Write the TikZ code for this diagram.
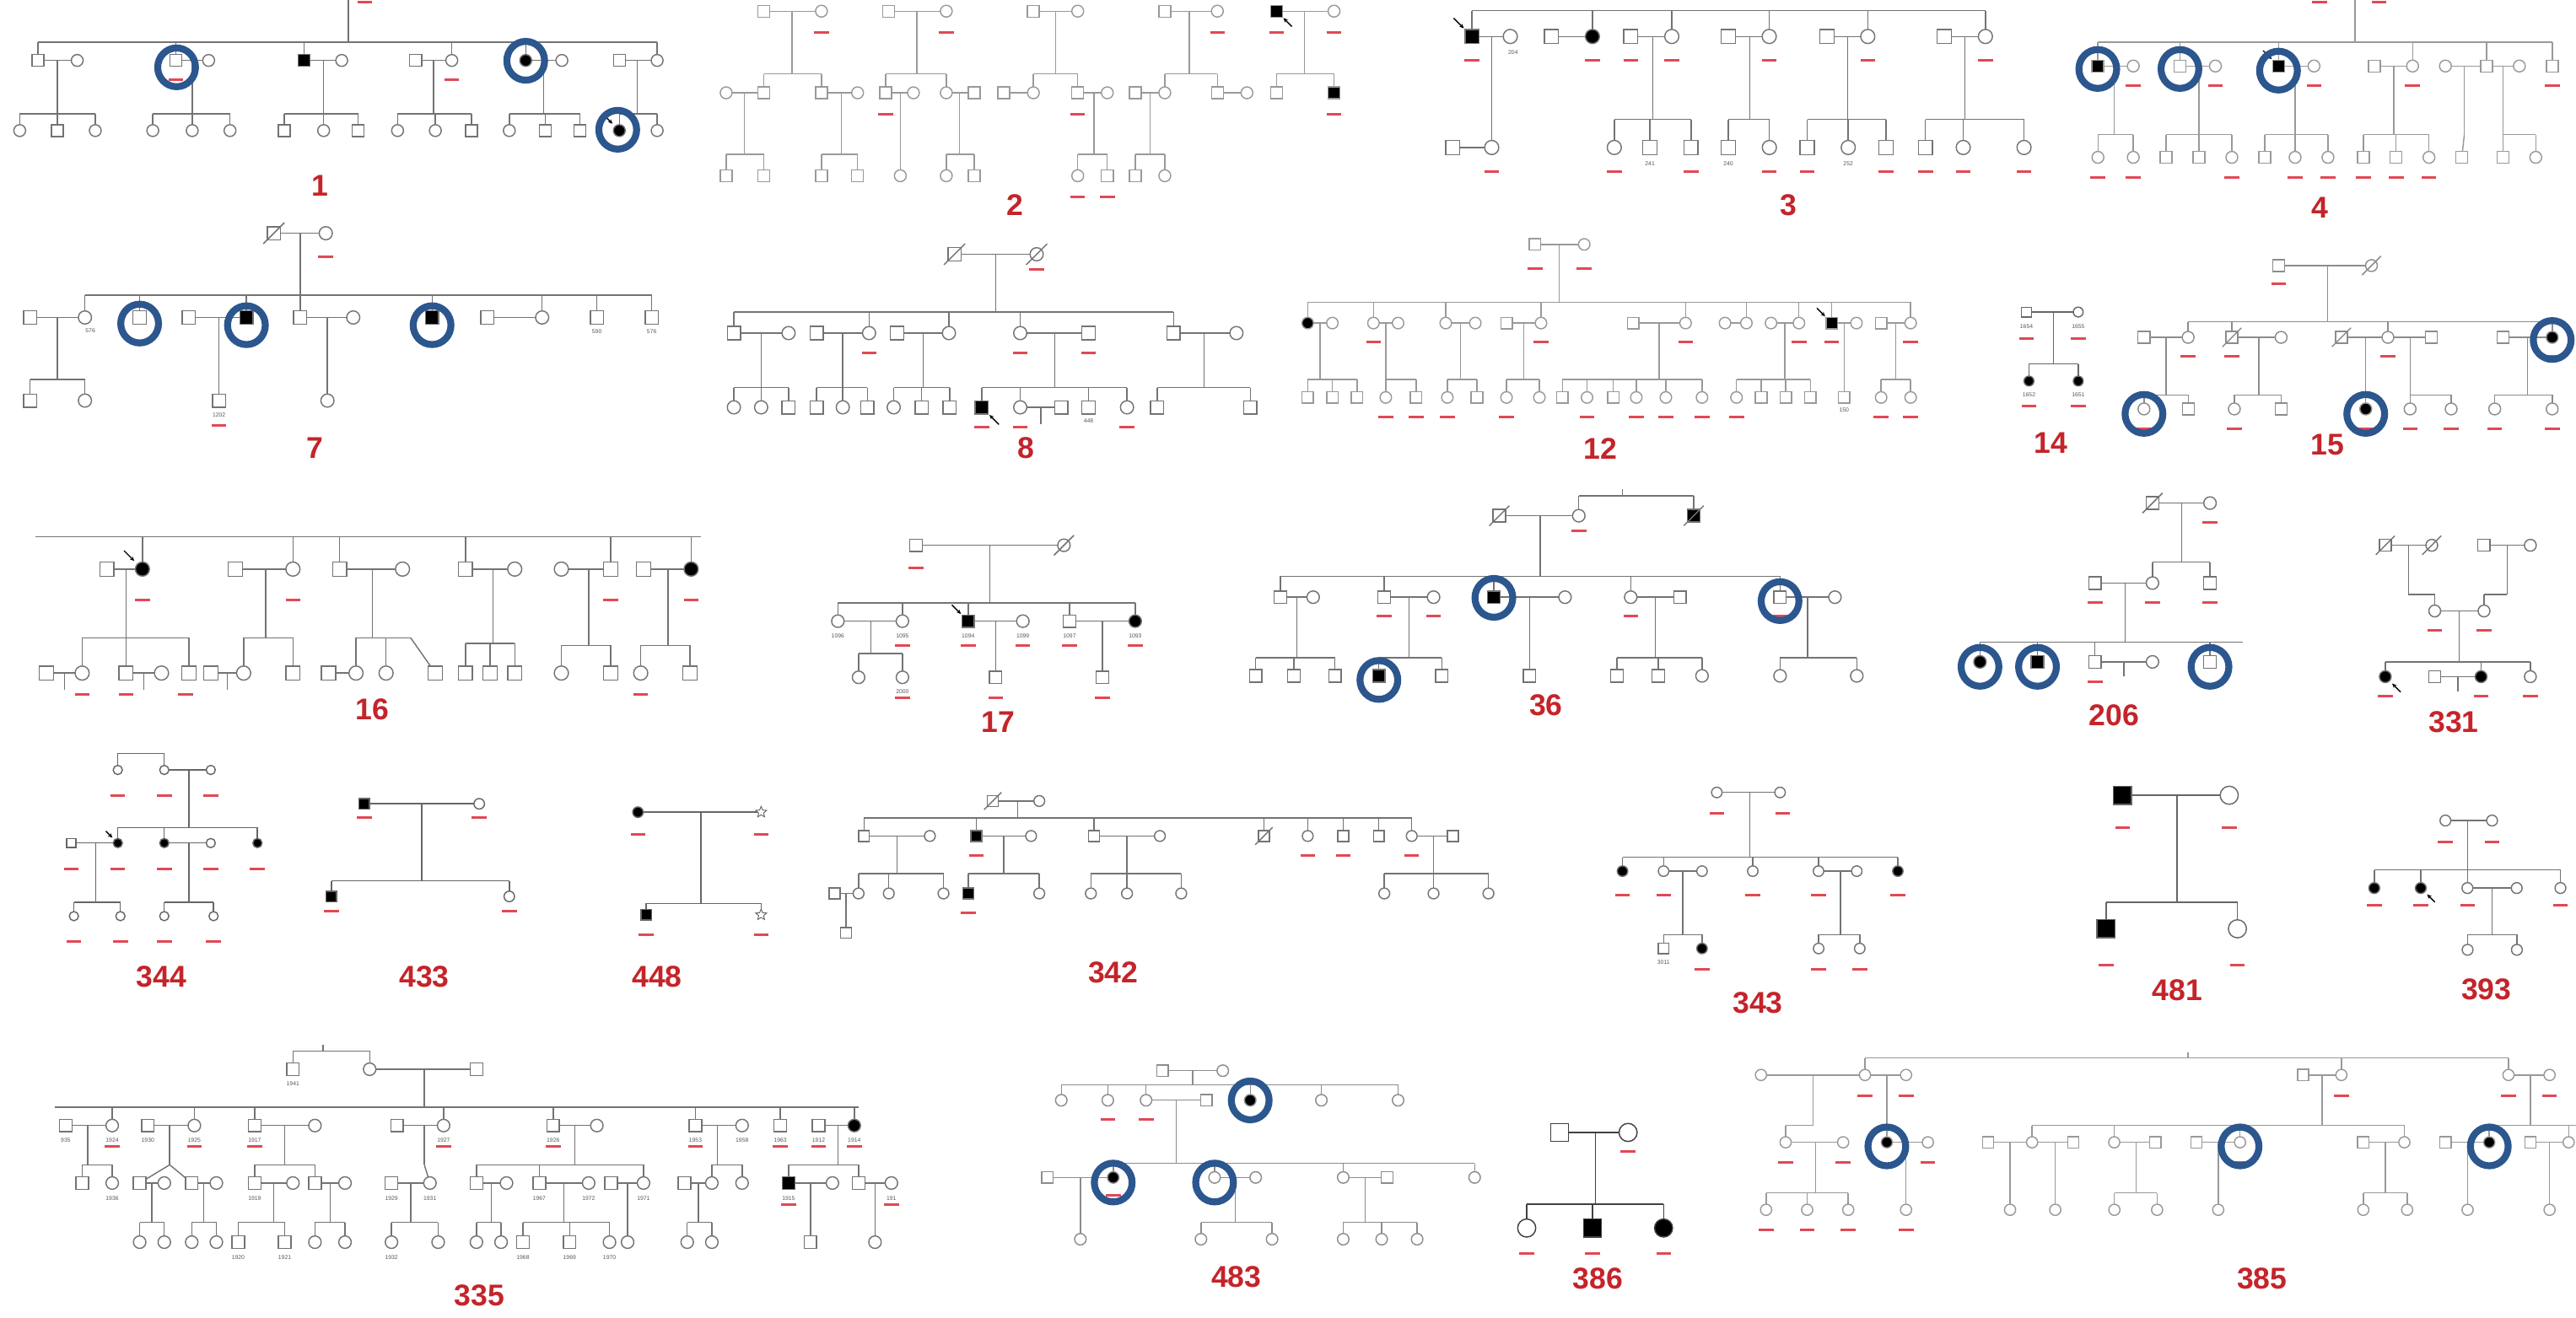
\documentclass[tikz,border=0pt]{standalone}
\usepackage{fontspec}
\setmainfont{Liberation Sans}
\usetikzlibrary{arrows.meta,shapes.geometric}
\definecolor{pedred}{RGB}{196,36,42}
\definecolor{barred}{RGB}{226,72,84}
\definecolor{hlblue}{RGB}{44,86,142}
\def\s{4}\def\lc{black!55}
\tikzset{
 ln/.style={draw=\lc, line width=1.05pt},
 sym/.style={draw=\lc, fill=white, line width=1.05pt},
 symf/.style={draw=\lc, fill=black, line width=1.05pt},
 rbar/.style={draw=barred, line width=2.2pt},
 hl/.style={draw=hlblue, line width=6pt},
 parrow/.style={draw=black, line width=1pt, -{Stealth[length=4pt,width=3.5pt]}},
 lab/.style={text=pedred, font=\fontsize{26}{28}\selectfont\bfseries, inner sep=0pt},
 num/.style={text=black!65, font=\fontsize{5}{6}\selectfont, inner sep=0pt},
 starsym/.style={star, star points=5, star point ratio=2.2, draw=black!60, line width=0.7pt, fill=white, minimum size=10pt, inner sep=0pt}
}
\newcommand\Hl[3]{\draw[ln] (#2,#1) -- (#3,#1);}
\newcommand\Vl[3]{\draw[ln] (#1,#2) -- (#1,#3);}
\newcommand\Ln[4]{\draw[ln] (#1,#2) -- (#3,#4);}
\newcommand\Dr[3]{\foreach \xx in {#3}{\draw[ln] (\xx,#1) -- (\xx,#2);}}
\newcommand\Ms[2]{\foreach \xx in {#2}{\draw[sym] (\xx-\s,#1-\s) rectangle (\xx+\s,#1+\s);}}
\newcommand\MF[2]{\foreach \xx in {#2}{\draw[symf] (\xx-\s,#1-\s) rectangle (\xx+\s,#1+\s);}}
\newcommand\Fs[2]{\foreach \xx in {#2}{\draw[sym] (\xx,#1) circle[radius=\s];}}
\newcommand\FF[2]{\foreach \xx in {#2}{\draw[symf] (\xx,#1) circle[radius=\s];}}
\newcommand\Sls[2]{\foreach \xx in {#2}{\draw[ln] (\xx-1.6*\s,#1+1.6*\s) -- (\xx+1.6*\s,#1-1.6*\s);}}
\newcommand\Rbs[2]{\foreach \xx in {#2}{\draw[rbar] (\xx-4.5,#1) -- (\xx+4.5,#1);}}
\newcommand\Hil[2]{\draw[hl] (#1,#2) ellipse[x radius=11.5, y radius=11.8];}
\newcommand\Pro[2]{\draw[parrow] (#1-2.6*\s,#2-2.6*\s) -- (#1-1.15*\s,#2-1.15*\s);}
\newcommand\ProR[2]{\draw[parrow] (#1+2.6*\s,#2+2.6*\s) -- (#1+1.15*\s,#2+1.15*\s);}
\newcounter{nn}
\newcommand\Nm[3]{\stepcounter{nn}\node[num] (n\arabic{nn}) at (#1,#2) {#3};}
\newcommand\Lab[3]{\node[lab] (p#3) at (#1,#2) {#3};}
\begin{document}
\begin{tikzpicture}[x=0.05cm,y=-0.05cm]
\fill[white] (0,0) rectangle (1568,802);
\path[use as bounding box] (0,0) rectangle (1568,802);

% ===== 1 =====
\def\s{3.6}\def\lc{black!55}
\Vl{212}{0}{25.7}\Hl{25.7}{23}{400}
\Dr{25.7}{36.8}{23,107,185,275,320,400}
\Hl{36.8}{23}{47}\Hl{36.8}{107}{127}\Hl{36.8}{185}{208}\Hl{36.8}{253}{275}\Hl{36.8}{320}{342}\Hl{36.8}{377}{400}
\Dr{36.8}{69.3}{35,117,197,264,331,388}
\Hl{69.3}{12}{58}\Hl{69.3}{93}{140}\Hl{69.3}{173}{218}\Hl{69.3}{242}{287}\Hl{69.3}{310}{353}\Hl{69.3}{377}{400}
\Dr{69.3}{79.5}{12,35,58,93,117,140,173,197,218,242,265,287,310,332,353,377,400}
\Ms{36.8}{23,107,253,377}\Fs{36.8}{47,127,208,275,342,400}\MF{36.8}{185}\FF{36.8}{320}
\Ms{79.5}{35,173,218,287,332,353}\Fs{79.5}{12,58,93,117,140,197,242,265,310,400}\FF{79.5}{377}
\Rbs{48.5}{107,275}\Rbs{1.5}{222}
\Pro{377}{79.5}
\Hil{107.5}{41}\Hil{320}{37}\Hil{376}{79}
\Lab{195}{113}{1}

% ===== 2 =====
\def\s{3.6}\def\lc{black!40}
\Hl{6.8}{465}{500}\Hl{6.8}{541}{576}\Hl{6.8}{629}{656}\Hl{6.8}{709}{741}\Hl{6.8}{777}{812}
\Dr{6.8}{45}{482,558,642.6,724,794}
\Hl{45}{465}{500}\Hl{45}{539}{576}\Hl{45}{629}{656}\Hl{45}{709}{741}\Hl{45}{777}{812}
\Dr{45}{56.5}{465,500,539,576,629,656,709,741,777,812}
\Hl{56.5}{442}{465}\Hl{56.5}{500}{522}\Hl{56.5}{539}{556}\Hl{56.5}{576}{593}\Hl{56.5}{611}{629}\Hl{56.5}{656}{674}\Hl{56.5}{691}{709}\Hl{56.5}{741}{759}
\Dr{56.5}{94}{453,512,584,666,700}
\Dr{56.5}{107}{548}
\Hl{94}{442}{465}\Hl{94}{500}{522}\Hl{94}{576}{593}\Hl{94}{656}{674}\Hl{94}{691}{709}
\Dr{94}{107}{442,465,500,522,576,593,656,674,691,709}
\Ms{6.8}{465,541,629,709}\Fs{6.8}{500,576,656,741,812}\MF{6.8}{777}
\Ms{56.5}{465,500,539,593,611,656,691,741,777}\Fs{56.5}{442,522,556,576,629,674,709,759}\MF{56.5}{812}
\Ms{107}{442,465,500,522,593,674,691}\Fs{107}{548,576,656,709}
\Rbs{19.7}{500,576,741,777,812}\Rbs{69.5}{539,656,812}\Rbs{120}{656,674}
\ProR{777}{6.8}
\Lab{617.6}{124.9}{2}

% ===== 3 =====
\def\s{4.3}\def\lc{black!55}
\Hl{6.5}{896}{1208.5}
\Dr{6.5}{22.2}{896,969.3,1017.6,1076.9,1136.9,1208.5}
\Hl{22.2}{896}{919.3}\Hl{22.2}{944.3}{969.3}\Hl{22.2}{992.6}{1017.6}\Hl{22.2}{1052}{1076.9}\Hl{22.2}{1112}{1136.9}\Hl{22.2}{1183.5}{1208.5}
\Dr{22.2}{89.8}{908}\Hl{89.8}{884.3}{908}
\Dr{22.2}{72.7}{1006,1065,1124.5,1196}
\Hl{72.7}{982.6}{1029.3}\Hl{72.7}{1052}{1077}\Hl{72.7}{1100}{1148}\Hl{72.7}{1172}{1232}
\Dr{72.7}{89.8}{982.6,1004.3,1029.3,1052,1077,1100,1125,1148,1172,1195,1232}
\MF{22.2}{896}\Fs{22.2}{919.3,1017.6,1076.9,1136.9,1208.5}\Ms{22.2}{944.3,992.6,1052,1112,1183.5}\FF{22.2}{969.3}
\Ms{89.8}{884.3,1004.3,1029.3,1052,1100,1148,1172}\Fs{89.8}{908,982.6,1077,1125,1195,1232}
\Rbs{36.8}{896,969.3,992.6,1017.6,1076.9,1136.9,1208.5}
\Rbs{104.3}{908,982.6,1029.3,1077,1100,1148,1172,1195,1232}
\Nm{921}{32}{204}\Nm{1004.3}{99.5}{241}\Nm{1052}{99.5}{240}\Nm{1125}{99.5}{252}
\Pro{896}{22.2}
\Lab{1088.5}{124.9}{3}

% ===== 4 =====
\def\s{3.6}\def\lc{black!40}
\Vl{1433.5}{0}{25.7}\Rbs{1.5}{1412,1448}
\Hl{25.7}{1276.9}{1553.5}
\Dr{25.7}{40.2}{1276.9,1326.9,1386.9,1468.5,1513.5,1553.5}
\Hl{40.2}{1276.9}{1298.5}\Hl{40.2}{1326.9}{1348.5}\Hl{40.2}{1386.9}{1408.5}\Hl{40.2}{1445.2}{1468.5}\Hl{40.2}{1488.5}{1533.5}
\Dr{40.2}{82}{1287,1338.5,1397,1457,1500,1523.5}
\Hl{82}{1277}{1298.5}\Hl{82}{1318.5}{1358.5}\Hl{82}{1378.5}{1417}\Hl{82}{1438.5}{1478.5}\Hl{82}{1523.5}{1543.5}
\Dr{82}{95.8}{1277,1298.5,1318.5,1338.5,1358.5,1378.5,1397,1417,1438.5,1458.5,1478.5,1523.5,1543.5}
\Ln{1500}{82}{1498.5}{95.8}
\MF{40.2}{1276.9,1386.9}\Fs{40.2}{1298.5,1348.5,1408.5,1468.5,1488.5,1533.5}\Ms{40.2}{1326.9,1445.2,1513.5,1553.5}
\Fs{95.8}{1277,1298.5,1358.5,1397,1417,1478.5,1543.5}\Ms{95.8}{1318.5,1338.5,1378.5,1438.5,1458.5,1498.5,1523.5}
\Rbs{52}{1298.5,1348.5,1408.5,1468.5,1553.5}
\Rbs{108}{1277,1298.5,1358.5,1397,1417,1438.5,1458.5,1478.5}
\Pro{1386.9}{40.2}
\Hil{1276.9}{42}\Hil{1326.9}{42}\Hil{1386.9}{43}
\Lab{1411.9}{126.6}{4}

% ===== 7 =====
\def\s{4}\def\lc{black!55}
\Hl{142}{166.7}{198.3}\Vl{182.7}{142}{179.6}
\Hl{179.6}{51.7}{396.7}
\Dr{179.6}{193.3}{51.7,85,150,182.7,263,330,363.3,396.7}
\Hl{193.3}{18.3}{51.7}\Hl{193.3}{115}{150}\Hl{193.3}{182.7}{215}\Hl{193.3}{296.7}{330}
\Dr{193.3}{231}{35}\Hl{231}{18.3}{51.7}\Dr{231}{243.9}{18.3,51.7}
\Dr{193.3}{243.9}{133.3,199.3}
\Ms{142}{166.7}\Sls{142}{166.7}\Fs{142}{198.3}
\Ms{193.3}{18.3,85,115,182.7,296.7,363.3,396.7}\Fs{193.3}{51.7,215,330}\MF{193.3}{150,263}
\Ms{243.9}{18.3,133.3}\Fs{243.9}{51.7,199.3}
\Rbs{156.5}{198.3}\Rbs{259}{133.3}
\Nm{55}{201.5}{576}\Nm{363.3}{202}{590}\Nm{396.7}{202}{576}\Nm{133.3}{252.5}{1202}
\Hil{85}{197}\Hil{150}{198}\Hil{263}{198}
\Lab{191.7}{272.9}{7}

% ===== 8 =====
\def\s{4}\def\lc{black!55}
\Hl{154.8}{581}{631}\Vl{606}{154.8}{190}
\Hl{190}{446.7}{714.3}
\Dr{190}{202.8}{446.7,529,577.6,621,714.3}
\Hl{202.8}{446.7}{480}\Hl{202.8}{497}{529}\Hl{202.8}{546}{577.6}\Hl{202.8}{621}{662.6}\Hl{202.8}{714.3}{752.6}
\Dr{202.8}{236}{463.3,513,562,642,733}
\Hl{236}{446.7}{480}\Hl{236}{497}{528}\Hl{236}{544}{578}\Hl{236}{597.6}{686}\Hl{236}{704.3}{761}
\Dr{236}{248}{446.7,463.3,480,497,513,528,544,561,578,597.6,621,662.6,686,704.3,761}
\Hl{248}{621}{646}\Dr{248}{258}{633.5}
\Ms{154.8}{581}\Fs{154.8}{631}\Sls{154.8}{581,631}
\Ms{202.8}{446.7,497,546,662.6,714.3}\Fs{202.8}{480,529,577.6,621,752.6}
\Fs{248}{446.7,463.3,513,544,621,686}\Ms{248}{480,497,528,561,578,646,662.6,704.3,761}\MF{248}{597.6}
\Rbs{164}{631}\Rbs{215}{529,621,662.6}\Rbs{260}{597.6,621,686}
\ProR{597.6}{248}
\Nm{662.6}{256.5}{448}
\Lab{624.3}{273}{8}

% ===== 12 =====
\def\s{3.5}\def\lc{black!40}
\Hl{148.8}{934.3}{964.3}\Vl{949}{148.8}{184}
\Hl{184}{796}{1163}
\Dr{184}{196.7}{796,836,880,938,1026,1063,1095,1115,1163}
\Hl{196.7}{796}{811}\Hl{196.7}{836}{851}\Hl{196.7}{880}{898}\Hl{196.7}{917}{938}\Hl{196.7}{994}{1026}\Hl{196.7}{1050}{1063}\Hl{196.7}{1078}{1095}\Hl{196.7}{1115}{1130}\Hl{196.7}{1145}{1163}
\Dr{196.7}{231}{803.5,843.5,889,927.5,1010,1086.5,1154}\Dr{196.7}{242}{1122.5}
\Hl{231}{796}{826}\Hl{231}{843.5}{862}\Hl{231}{881}{899}\Hl{231}{917}{937}\Hl{231}{951}{1036}\Hl{231}{1057}{1102}\Hl{231}{1145}{1163}
\Dr{231}{242}{796,811,826,843.5,862,881,899,917,937,951,966,982,996,1014,1036,1057,1072,1087,1102,1145,1163}
\Ms{148.8}{934.3}\Fs{148.8}{964.3}
\FF{196.7}{796}\Fs{196.7}{811,836,851,880,898,938,1026,1050,1063,1078,1095,1130,1163}\Ms{196.7}{917,994,1145}\MF{196.7}{1115}
\Ms{242}{796,811,826,862,899,951,982,1072,1087,1102,1122.5}\Fs{242}{843.5,881,917,937,966,996,1014,1036,1057,1145,1163}
\Rbs{163.4}{934.3,964.3}\Rbs{208}{836,938,1026,1095,1115,1163}\Rbs{254}{843.5,862,881,917,966,996,1014,1036,1057,1145,1163}
\Pro{1115}{196.7}
\Nm{1122.5}{249.5}{150}
\Lab{974.3}{273}{12}

% ===== 14 =====
\def\s{3}\def\lc{black!60}
\Hl{190}{1233.5}{1265}\Vl{1250}{190}{221.6}\Hl{221.6}{1235}{1265}\Dr{221.6}{232}{1235,1265}
\Ms{190}{1233.5}\Fs{190}{1265}\FF{232}{1235,1265}
\Nm{1233.5}{199}{1654}\Nm{1265}{199}{1655}\Nm{1235}{240.4}{1652}\Nm{1265}{240.4}{1651}
\Rbs{206}{1233.5,1265}\Rbs{247.3}{1235,1265}
\Lab{1248.5}{269.5}{14}

% ===== 15 =====
\def\s{3.6}\def\lc{black!45}
\Hl{161.7}{1386.9}{1443.5}\Vl{1416.9}{161.7}{196}
\Hl{196}{1331.9}{1553.5}
\Dr{196}{205.4}{1331.9,1358.5,1453.5,1553.5}
\Hl{205.4}{1305}{1331.9}\Hl{205.4}{1358.5}{1388.5}\Hl{205.4}{1425.2}{1480}\Hl{205.4}{1523.5}{1553.5}
\Dr{205.4}{240.4}{1318.5,1375,1467,1538.5}\Dr{205.4}{249}{1440}
\Hl{240.4}{1305}{1332}\Hl{240.4}{1360}{1388.5}\Hl{240.4}{1467}{1492}\Hl{240.4}{1518.5}{1553.5}
\Dr{240.4}{249}{1305,1332,1360,1388.5,1467,1492,1518.5,1553.5}
\Ms{161.7}{1386.9}\Fs{161.7}{1443.5}\Sls{161.7}{1443.5}
\Ms{205.4}{1305,1358.5,1425.2,1480,1523.5}\Fs{205.4}{1331.9,1388.5,1453.5}\FF{205.4}{1553.5}\Sls{205.4}{1358.5,1425.2}
\Fs{249}{1305,1360,1467,1492,1518.5,1553.5}\Ms{249}{1332,1388.5}\FF{249}{1440}
\Rbs{172.8}{1386.9}\Rbs{217}{1331.9,1358.5,1453.5,1553.5}\Rbs{261}{1305,1360,1440,1467,1492,1518.5,1553.5}
\Hil{1305}{252}\Hil{1440}{252}\Hil{1553.5}{207}
\Lab{1416.9}{271}{15}

% ===== 16 =====
\def\s{4.3}\def\lc{black!55}
\Hl{326.8}{21.7}{426.7}
\Dr{326.8}{346.5}{86.7,178.3,206.7,283.3,371.7,420.7}
\Hl{346.5}{65}{86.7}\Hl{346.5}{143.3}{178.3}\Hl{346.5}{206.7}{245}\Hl{346.5}{283.3}{313.3}\Hl{346.5}{341.7}{371.7}\Hl{346.5}{391.7}{420.7}
\Dr{346.5}{388.4}{76.7,161.7,226.7}\Dr{346.5}{391.8}{300}\Dr{346.5}{393}{358.3,406.7}
\Hl{388.4}{50}{115}\Hl{388.4}{148.3}{178.3}\Hl{388.4}{216.7}{250}\Ln{250}{388.4}{265}{409.8}
\Hl{391.8}{283.3}{313.3}\Hl{393}{341.7}{371.7}\Hl{393}{390}{420}
\Dr{388.4}{409.8}{50,76.7,115,148.3,178.3,216.7,235}\Dr{391.8}{409.8}{283.3,298.3,313.3}\Dr{393}{409.8}{341.7,371.7,390,420}
\Hl{409.8}{28.3}{50}\Hl{409.8}{76.7}{98.3}\Hl{409.8}{128.3}{148.3}\Hl{409.8}{200}{216.7}
\Dr{409.8}{420}{39.2,87.5,138.3}
\Ms{346.5}{65,143.3,206.7,283.3,371.7,391.7}\Fs{346.5}{178.3,245,313.3,341.7}\FF{346.5}{86.7,420.7}
\Ms{409.8}{28.3,76.7,115,128.3,178.3,200,265,283.3,298.3,313.3,371.7,420}\Fs{409.8}{50,98.3,148.3,216.7,235,341.7,390}
\Rbs{365.3}{86.7,178.3,371.7,420.7}\Rbs{423}{50,76.7,113,390}
\Pro{86.7}{346.5}
\Lab{226.7}{432}{16}

% ===== 17 =====
\def\s{3.8}\def\lc{black!55}
\Hl{332}{557.6}{647.6}\Vl{602.6}{332}{367}
\Hl{367}{510}{691}
\Dr{367}{378.2}{510,549.3,589.3,651,691}
\Hl{378.2}{510}{549.3}\Hl{378.2}{589.3}{622.6}\Hl{378.2}{651}{691}
\Dr{378.2}{398}{530}\Hl{398}{522.6}{549.3}\Dr{398}{412.4}{522.6,549.3}
\Dr{378.2}{412.4}{606,671}
\Ms{332}{557.6}\Fs{332}{647.6}\Sls{332}{647.6}
\Fs{378.2}{510,549.3,622.6}\MF{378.2}{589.3}\Ms{378.2}{651}\FF{378.2}{691}
\Fs{412.4}{522.6,549.3}\Ms{412.4}{606,671}
\Nm{510}{387}{1096}\Nm{549.3}{387}{1095}\Nm{589.3}{387}{1094}\Nm{622.6}{387}{1099}\Nm{651}{387}{1097}\Nm{691}{387}{1093}
\Nm{549.3}{421}{2000}
\Rbs{345.6}{557.6}\Rbs{393}{549.3,589.3,622.6,651,691}\Rbs{425}{549.3,606,671}
\Pro{589.3}{378.2}
\Lab{607.6}{439.7}{17}

% ===== 36 =====
\def\s{3.8}\def\lc{black!55}
\Hl{302}{961}{1031}\Vl{987.6}{302}{298}
\Dr{302}{314}{961,1031}
\Hl{314}{912.6}{961}\Vl{937.6}{314}{350.8}
\Hl{350.8}{779.3}{1083.5}
\Dr{350.8}{363.6}{779.3,842.6,909.3,992.6,1083.5}
\Hl{363.6}{779.3}{799.3}\Hl{363.6}{842.6}{872.6}\Hl{363.6}{909.3}{952.6}\Hl{363.6}{992.6}{1022.6}\Hl{363.6}{1083.5}{1116.9}
\Dr{363.6}{400.4}{789.3,857.6,1007.6,1100.2}\Dr{363.6}{411.5}{931}
\Hl{400.4}{764.3}{812.6}\Hl{400.4}{839.3}{877.6}\Hl{400.4}{984.3}{1036}\Hl{400.4}{1083.5}{1130.2}
\Dr{400.4}{411.5}{764.3,787.6,812.6,839.3,877.6,984.3,1009.3,1036,1083.5,1130.2}
\Ms{314}{912.6}\Sls{314}{912.6}\Fs{314}{961}\MF{314}{1031}\Sls{314}{1031}
\Ms{363.6}{779.3,842.6,1022.6,1083.5}\Fs{363.6}{799.3,872.6,952.6,992.6,1116.9}\MF{363.6}{909.3}
\Ms{411.5}{764.3,787.6,812.6,877.6,931,984.3,1009.3}\MF{411.5}{839.3}\Fs{411.5}{1036,1083.5,1130.2}
\Rbs{323.4}{961}\Rbs{375}{842.6,872.6,992.6,1083.5}
\Hil{909.3}{364}\Hil{1083.5}{366}\Hil{839.3}{414}
\Lab{941}{429.5}{36}

% ===== 206 =====
\def\s{3.8}\def\lc{black!55}
\Hl{306.3}{1310.2}{1345.2}\Vl{1327.9}{306.3}{342.2}\Hl{342.2}{1310.2}{1345.2}\Dr{342.2}{355}{1310.2,1345.2}
\Hl{355}{1275.2}{1310.2}\Vl{1293.5}{355}{391}
\Hl{391}{1205.2}{1365.2}\Dr{391}{403}{1205.2,1240.2,1275.2,1345.2}
\Hl{403}{1275.2}{1310.2}\Dr{403}{412}{1292.7}
\Ms{306.3}{1310.2}\Sls{306.3}{1310.2}\Fs{306.3}{1345.2}
\Ms{355}{1275.2,1345.2}\Fs{355}{1310.2}
\FF{403}{1205.2}\MF{403}{1240.2}\Ms{403}{1275.2,1345.2}\Fs{403}{1310.2}
\Rbs{318.3}{1345.2}\Rbs{367}{1275.2,1310.2,1345.2}\Rbs{415}{1275.2}
\Hil{1205.2}{406}\Hil{1240.2}{406}\Hil{1345.2}{406}
\Lab{1286.9}{435.5}{206}

% ===== 331 =====
\def\s{3.6}\def\lc{black!55}
\Hl{332}{1451.9}{1480.2}\Hl{332}{1511.9}{1540.2}
\Dr{332}{362}{1466,1526}
\Hl{362}{1466}{1482}\Hl{362}{1512}{1526}
\Dr{362}{372}{1482,1512}
\Hl{372}{1482}{1512}\Vl{1497}{372}{403}
\Hl{403}{1451.9}{1540.2}\Dr{403}{412}{1451.9,1510.2,1540.2}
\Hl{412}{1481.9}{1510.2}\Dr{412}{421}{1496}
\Ms{332}{1451.9,1511.9}\Fs{332}{1480.2,1540.2}\Sls{332}{1451.9,1480.2}
\Fs{372}{1482,1512}
\FF{412}{1451.9,1510.2}\Ms{412}{1481.9}\Fs{412}{1540.2}
\Rbs{384}{1482,1512}\Rbs{424}{1451.9,1510.2,1540.2}
\ProR{1451.9}{412}
\Lab{1493.5}{439.7}{331}

% ===== 344 =====
\def\s{2.8}\def\lc{black!60}
\Hl{458.6}{71.7}{100}\Dr{458.6}{468.8}{71.7,100}
\Hl{468.8}{100}{128.3}\Vl{115}{468.8}{503.9}
\Hl{503.9}{71.7}{156.7}\Dr{503.9}{513.3}{71.7,100,156.7}
\Hl{513.3}{43.3}{71.7}\Hl{513.3}{100}{128.3}
\Dr{513.3}{549.3}{58.3,115}
\Hl{549.3}{45}{73.3}\Hl{549.3}{100}{130}\Dr{549.3}{557.8}{45,73.3,100,130}
\Fs{468.8}{71.7,100,128.3}
\Ms{513.3}{43.3}\FF{513.3}{71.7,100,156.7}\Fs{513.3}{128.3}
\Fs{557.8}{45,73.3,100,130}
\Rbs{484.2}{71.7,100,128.3}\Rbs{529}{43.3,71.7,100,128.3,156.7}\Rbs{573}{45,73.3,100,130}
\Pro{71.7}{513.3}
\Lab{98.3}{594.6}{344}

% ===== 433 =====
\def\s{3.2}\def\lc{black!60}
\Hl{489.4}{221.7}{291.7}\Vl{256.7}{489.4}{536.4}\Hl{536.4}{201.7}{310}\Dr{536.4}{545.8}{201.7,310}
\MF{489.4}{221.7}\Fs{489.4}{291.7}\MF{545.8}{201.7}\Fs{545.8}{310}
\Rbs{497.9}{221.7,291.7}\Rbs{555}{201.7,310}
\Lab{258.3}{594.6}{433}

% ===== 448 =====
\def\s{3.2}\def\lc{black!60}
\Hl{494.5}{388.3}{463.3}\Vl{426.7}{494.5}{550}\Hl{550}{393.3}{463.3}\Dr{550}{557}{393.3,463.3}
\FF{494.5}{388.3}\MF{557}{393.3}
\node[starsym] (st1) at (463.3,494.5) {};
\node[starsym] (st2) at (463.3,557) {};
\Rbs{508.2}{388.3,463.3}\Rbs{569}{393.3,463.3}
\Lab{400}{594.6}{448}

% ===== 342 =====
\def\s{3.3}\def\lc{black!55}
\Hl{487.7}{604.3}{632.6}\Vl{619.3}{487.7}{498}
\Hl{498}{525.9}{859.3}
\Dr{498}{509}{525.9,594.3,666,769.3,796,817.6,839.3,859.3}
\Hl{509}{525.9}{566}\Hl{509}{594.3}{627.6}\Hl{509}{666}{706}\Hl{509}{859.3}{884.3}
\Dr{509}{532}{546,611,686,872.6}
\Hl{532}{522.6}{574.3}\Hl{532}{589.3}{632.6}\Hl{532}{664}{719}\Hl{532}{842.6}{906}
\Dr{532}{544}{522.6,541,574.3,589.3,632.6,664,686,719,842.6,872.6,906}
\Hl{544}{508}{522.6}\Dr{544}{568}{515}
\Ms{487.7}{604.3}\Sls{487.7}{604.3}\Fs{487.7}{632.6}
\Ms{509}{525.9,666,769.3,817.6,839.3,884.3}\Fs{509}{566,627.6,706,796,859.3}\MF{509}{594.3}\Sls{509}{769.3}
\Ms{544}{508}\Fs{544}{522.6,541,574.3,632.6,664,686,719,842.6,872.6,906}\MF{544}{589.3}
\Ms{568}{515}
\Rbs{521}{594.3,796,817.6,859.3}\Rbs{556}{589.3}
\Lab{677.6}{592}{342}

% ===== 343 =====
\def\s{3.2}\def\lc{black!55}
\Hl{482.5}{1045}{1083.5}\Vl{1065}{482.5}{521.9}
\Hl{521.9}{987.6}{1155.2}
\Dr{521.9}{530.4}{987.6,1012.6,1066.9,1106.9,1155.2}
\Hl{530.4}{1012.6}{1036}\Hl{530.4}{1106.9}{1130.2}
\Dr{530.4}{569}{1024.3,1120.2}
\Hl{569}{1012.6}{1036}\Hl{569}{1107}{1132}
\Dr{569}{577.5}{1012.6,1036,1107,1132}
\Fs{482.5}{1045,1083.5}
\FF{530.4}{987.6,1155.2}\Fs{530.4}{1012.6,1036,1066.9,1106.9,1130.2}
\Ms{577.5}{1012.6}\FF{577.5}{1036}\Fs{577.5}{1107,1132}
\Rbs{495}{1045,1085}\Rbs{545}{987.6,1012.6,1066.9,1106.9,1155.2}\Rbs{590}{1036,1107,1132}
\Nm{1012.6}{586}{3011}
\Lab{1070}{610.8}{343}

% ===== 481 =====
\def\s{5.5}\def\lc{black!60}
\Hl{484.2}{1291.9}{1356.9}\Vl{1325.2}{484.2}{549.3}\Hl{549.3}{1281.9}{1361.9}\Dr{549.3}{565.5}{1281.9,1361.9}
\MF{484.2}{1291.9}\Fs{484.2}{1356.9}\MF{565.5}{1281.9}\Fs{565.5}{1361.9}
\Rbs{503.9}{1291.9,1356.9}\Rbs{587.7}{1281.9,1361.9}
\Lab{1325.2}{603.1}{481}

% ===== 393 =====
\def\s{3.3}\def\lc{black!55}
\Hl{499.6}{1488.5}{1516.9}\Vl{1501.9}{499.6}{529.6}
\Hl{529.6}{1445.2}{1558.5}\Dr{529.6}{540.7}{1445.2,1473.5,1501.9,1558.5}
\Hl{540.7}{1501.9}{1531.9}\Vl{1516.9}{540.7}{569}
\Hl{569}{1502}{1532}\Dr{569}{578.3}{1502,1532}
\Fs{499.6}{1488.5,1516.9}
\FF{540.7}{1445.2,1473.5}\Fs{540.7}{1501.9,1531.9,1558.5}
\Fs{578.3}{1502,1532}
\Rbs{512.5}{1488.5,1516.9}\Rbs{551}{1445.2,1473.5,1501.9,1558.5}
\ProR{1473.5}{540.7}
\Lab{1513.5}{602.3}{393}

% ===== 335 =====
\def\s{3.8}\def\lc{black!55}
\Hl{639.9}{178.3}{225}\Vl{196.7}{639.9}{636}
\Dr{639.9}{651}{178.3,225}
\Hl{651}{225}{290}\Vl{258.3}{651}{674.1}
\Hl{674.1}{33.3}{522.6}
\Dr{674.1}{685.3}{68.3,118.3,155,270,336.7,423.3,475,520}
\Hl{685.3}{40}{68.3}\Hl{685.3}{90}{118.3}\Hl{685.3}{155}{191.7}\Hl{685.3}{241.7}{270}\Hl{685.3}{336.7}{363.3}\Hl{685.3}{423.3}{451.7}\Hl{685.3}{498.3}{520}
\Dr{685.3}{709.2}{53.3,103.3,173.3,258.3,350,436.7,510}
\Hl{709.2}{50}{68.3}\Ln{103.3}{709.2}{85}{720.3}\Ln{103.3}{709.2}{116.7}{720.3}\Hl{709.2}{155}{191.7}\Ln{258.3}{709.2}{261.7}{720.3}\Hl{709.2}{290}{391.7}\Hl{709.2}{433.3}{451.7}\Hl{709.2}{480}{522.6}
\Dr{709.2}{720.3}{50,68.3,155,191.7,290,328.3,391.7,433.3,451.7,480,522.6}
\Hl{720.3}{85}{100}\Hl{720.3}{116.7}{131.7}\Hl{720.3}{155}{178.3}\Hl{720.3}{191.7}{210}\Hl{720.3}{238.3}{261.7}\Hl{720.3}{290}{308.3}\Hl{720.3}{328.3}{358.3}\Hl{720.3}{372}{391.7}\Hl{720.3}{416.7}{433.3}\Hl{720.3}{480}{506.7}\Hl{720.3}{522.6}{542.6}
\Dr{720.3}{744.3}{92.5,124,166.7,201,250,299,343.3,425}
\Dr{720.3}{756.3}{382,493.3,532.6}
\Hl{744.3}{85}{100}\Hl{744.3}{116.7}{131.7}\Hl{744.3}{145}{173.3}\Hl{744.3}{191.7}{210}\Hl{744.3}{238.3}{266.7}\Hl{744.3}{290}{305}\Hl{744.3}{318.3}{371}\Hl{744.3}{418.3}{433.3}
\Dr{744.3}{756.3}{85,100,116.7,131.7,145,173.3,191.7,210,238.3,266.7,290,305,318.3,346.7,371,418.3,433.3}
\Ms{651}{178.3,290}\Fs{651}{225}
\Ms{685.3}{40,90,155,241.7,336.7,423.3,475,498.3}\Fs{685.3}{68.3,118.3,191.7,270,363.3,451.7}\FF{685.3}{520}
\Ms{720.3}{50,85,116.7,155,191.7,238.3,290,328.3,372,416.7,522.6}\Fs{720.3}{68.3,100,131.7,178.3,210,261.7,308.3,358.3,391.7,433.3,451.7,506.7,542.6}\MF{720.3}{480}
\Fs{756.3}{85,100,116.7,131.7,191.7,210,238.3,266.7,290,305,371,382,418.3,433.3,532.6}\Ms{756.3}{145,173.3,318.3,346.7,493.3}
\Nm{178.3}{660}{1941}
\Nm{40}{694}{935}\Nm{68.3}{694}{1924}\Nm{90}{694}{1930}\Nm{118.3}{694}{1925}\Nm{155}{694}{1917}\Nm{270}{694}{1927}\Nm{336.7}{694}{1926}\Nm{423.3}{694}{1953}\Nm{451.7}{694}{1958}\Nm{475}{694}{1963}\Nm{498.3}{694}{1912}\Nm{520}{694}{1914}
\Rbs{698}{68.3,118.3,155,270,336.7,423.3,475,498.3,520}
\Nm{68.3}{729.5}{1936}\Nm{155}{729.5}{1919}\Nm{238.3}{729.5}{1929}\Nm{261.7}{729.5}{1931}\Nm{328.3}{729.5}{1967}\Nm{358.3}{729.5}{1972}\Nm{391.7}{729.5}{1971}\Nm{480}{729.5}{1915}\Nm{542.6}{729.5}{191}
\Rbs{733.5}{480,542.6}
\Nm{145}{765.5}{1920}\Nm{173.3}{765.5}{1921}\Nm{238.3}{765.5}{1932}\Nm{318.3}{765.5}{1968}\Nm{346.7}{765.5}{1969}\Nm{371}{765.5}{1970}
\Lab{291.7}{788.8}{335}

% ===== 483 =====
\def\s{3.5}\def\lc{black!45}
\Hl{651.9}{707.6}{744.3}\Vl{726}{651.9}{660.4}
\Hl{660.4}{646}{851}\Dr{660.4}{669.9}{646,674.3,697.6,761,804.3,851}
\Hl{669.9}{697.6}{734.3}\Vl{716}{669.9}{708.3}
\Hl{708.3}{677.6}{897.6}\Dr{708.3}{716.9}{677.6,739.3,817.6,897.6}
\Hl{716.9}{637.6}{677.6}\Hl{716.9}{739.3}{764.3}\Hl{716.9}{817.6}{844.3}
\Dr{716.9}{754.5}{657.6}\Dr{716.9}{744.3}{751.8,831}
\Hl{744.3}{731}{774.3}\Hl{744.3}{817.6}{862.6}
\Dr{744.3}{754.5}{731,774.3,817.6,841,862.6}
\Ms{651.9}{707.6}\Fs{651.9}{744.3}
\Fs{669.9}{646,674.3,697.6,804.3,851}\Ms{669.9}{734.3}\FF{669.9}{761}
\Ms{716.9}{637.6,844.3}\FF{716.9}{677.6}\Fs{716.9}{739.3,764.3,817.6,897.6}
\Fs{754.5}{657.6,731,774.3,817.6,841,862.6}
\Rbs{681.5}{674.3,697.6}\Rbs{728}{677.6}
\Hil{761}{670}\Hil{677.6}{720}\Hil{739.3}{720}
\Lab{752.6}{777.6}{483}

% ===== 386 =====
\def\s{5.5}\def\lc{black!75}
\Hl{689.5}{949.3}{991}\Vl{971}{689.5}{733.2}\Hl{733.2}{929.3}{1012.6}\Dr{733.2}{747.7}{929.3,969.3,1012.6}
\Ms{689.5}{949.3}\Fs{689.5}{991}
\Fs{747.7}{929.3}\MF{747.7}{969.3}\FF{747.7}{1012.6}
\Rbs{701}{991}\Rbs{763.1}{929.3,969.3,1012.6}
\Lab{972.6}{778.5}{386}

% ===== 385 =====
\def\s{3.4}\def\lc{black!40}
\Hl{644.2}{1135.2}{1526.9}\Vl{1331.9}{644.2}{641}
\Dr{644.2}{654.5}{1135.2,1425.2,1526.9}
\Hl{654.5}{1071.9}{1160.2}
\Vl{1103.5}{654.5}{685.3}\Hl{685.3}{1086.9}{1103.5}\Vl{1086.9}{685.3}{695.5}
\Hl{695.5}{1086.9}{1121.9}\Vl{1105}{695.5}{726.3}\Hl{726.3}{1075}{1125}\Dr{726.3}{736.6}{1075,1100,1125}
\Vl{1148.5}{654.5}{695.5}\Hl{695.5}{1148.5}{1173.5}\Vl{1160.2}{695.5}{736.6}
\Hl{654.5}{1401.9}{1425.2}\Vl{1413.5}{654.5}{685.3}
\Hl{685.3}{1236.9}{1463.5}\Dr{685.3}{695.5}{1236.9,1286.9,1363.5,1463.5}
\Hl{695.5}{1210.2}{1261.9}\Dr{695.5}{736.6}{1223.5,1251}
\Hl{695.5}{1286.9}{1311.9}\Vl{1300.2}{695.5}{726.3}\Hl{726.3}{1287}{1313}\Dr{726.3}{736.6}{1287,1313}
\Hl{695.5}{1336.9}{1363.5}\Vl{1350.2}{695.5}{736.6}
\Hl{695.5}{1438.5}{1463.5}\Vl{1451.9}{695.5}{726.3}\Hl{726.3}{1438.5}{1465.2}\Dr{726.3}{736.6}{1438.5,1465.2}
\Hl{654.5}{1526.9}{1551.9}\Vl{1540.2}{654.5}{685.3}
\Hl{685.3}{1515.2}{1568}\Dr{685.3}{695.5}{1515.2,1563.5}
\Hl{695.5}{1488.5}{1515.2}\Vl{1502}{695.5}{736.6}
\Hl{695.5}{1540.2}{1563.5}\Vl{1551.9}{695.5}{736.6}
\Fs{654.5}{1071.9,1135.2,1160.2,1425.2,1526.9,1551.9}\Ms{654.5}{1401.9}
\Fs{695.5}{1086.9,1121.9,1173.5,1236.9,1286.9,1363.5,1463.5,1563.5}\FF{695.5}{1148.5,1515.2}\Ms{695.5}{1210.2,1261.9,1311.9,1336.9,1438.5,1488.5,1540.2}
\Fs{736.6}{1075,1100,1125,1160.2,1223.5,1251,1287,1313,1350.2,1438.5,1465.2,1502,1551.9}
\Rbs{667}{1135.2,1160.2,1425.2,1526.9,1551.9}\Rbs{708}{1086.9,1121.9,1173.5,1363.5}\Rbs{749}{1075,1100,1125,1160.2}
\Hil{1148.5}{698}\Hil{1363.5}{698}\Hil{1515.2}{698}
\Lab{1376.9}{778.5}{385}
\end{tikzpicture}
\end{document}
